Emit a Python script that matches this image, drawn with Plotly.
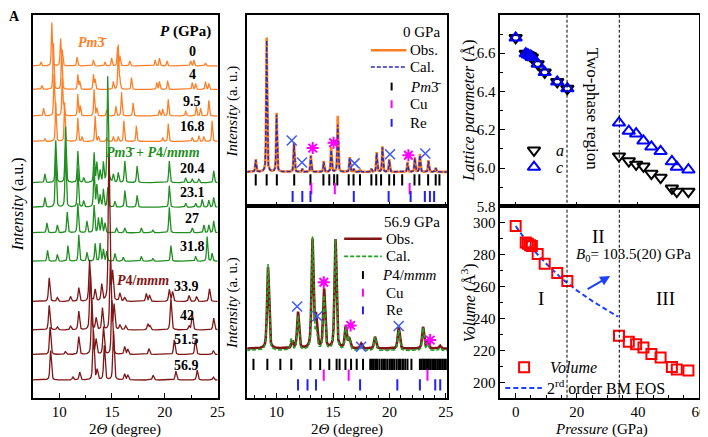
import numpy as np
import plotly.graph_objects as go

FONT = "Liberation Serif"
W, H = 708, 437


def px(x):
    return x / W


def py(y):
    return 1 - y / H


ORANGE = "#FF7F27"
GREEN = "#1F8F1F"
DRED = "#7F1515"
NAVY = "#2C2CB4"
CALGREEN = "#22A022"
XBLUE = "#3D5AFE"
MAG = "#FF00FF"
REBLUE = "#2020FF"
VBLUE = "#1F3FFF"

# ---------------- Panel A : stacked patterns (peak position 2theta, height) ----------------
pressures_A = ["0", "4", "9.5", "16.8", "20.4", "23.1", "27", "31.8", "33.9", "42", "51.5", "56.9"]
offsets_A = [338, 314, 287, 261, 219, 194, 168, 139, 98, 69, 44, 18]
peaks_A_0 = [(8.28, 4), (9.31, 44), (10.14, 27), (10.3, 15), (11.7, 9), (13.25, 6), (14.34, 4), (14.97, 8), (15.53, 19), (15.75, 10), (16.69, 5), (19.09, 6), (19.5, 8), (20.21, 5), (22.45, 5), (22.76, 6), (23.85, 3)]
peaks_A_4 = [(8.37, 4), (9.46, 47), (10.24, 40), (11.77, 15), (11.95, 8), (13.25, 15), (13.41, 10), (15.13, 8), (15.6, 45), (15.75, 10), (16.85, 12), (19.25, 7), (19.5, 8), (20.27, 9), (22.6, 7), (22.92, 6), (23.85, 8), (24.17, 6)]
peaks_A_9 = [(8.53, 8), (9.52, 43), (10.3, 38), (10.45, 10), (11.77, 22), (12.01, 10), (13.31, 27), (13.57, 8), (14.5, 6), (15.37, 10), (15.91, 24), (17.0, 13), (19.5, 6), (19.81, 7), (20.33, 17), (21.98, 5), (22.98, 10), (23.39, 8), (24.17, 16)]
peaks_A_16 = [(8.65, 3), (9.68, 40), (10.52, 40), (11.77, 24), (12.17, 5), (13.41, 26), (13.72, 5), (14.5, 4), (15.13, 5), (15.6, 5), (16.13, 21), (17.31, 16), (19.81, 4), (20.33, 18), (22.6, 4), (23.23, 6), (23.7, 5), (24.48, 21)]
peaks_A_20 = [(8.65, 9), (9.68, 43), (10.61, 57), (11.77, 32), (12.32, 5), (13.31, 30), (13.57, 20), (13.88, 12), (14.19, 20), (14.6, 108), (15.13, 8), (15.6, 10), (16.22, 22), (17.38, 17), (20.43, 22), (21.98, 5), (22.6, 4), (23.23, 4), (24.63, 12)]
peaks_A_23 = [(8.65, 10), (9.68, 55), (10.61, 60), (11.77, 40), (12.32, 6), (13.31, 40), (13.57, 22), (13.88, 12), (14.19, 18), (14.6, 20), (15.28, 6), (16.22, 17), (17.38, 12), (20.43, 22), (21.98, 4), (22.92, 4), (23.54, 8), (24.17, 7), (24.63, 10)]
peaks_A_27 = [(8.84, 10), (9.83, 8), (10.77, 21), (11.77, 30), (12.63, 12), (13.31, 28), (13.72, 15), (14.03, 15), (14.34, 10), (15.44, 5), (16.22, 5), (17.78, 5), (18.87, 3), (20.43, 26), (22.6, 5), (23.7, 8), (24.17, 8), (24.63, 12)]
peaks_A_31 = [(8.9, 11), (9.83, 7), (10.83, 16), (11.86, 27), (12.63, 9), (13.41, 18), (13.88, 18), (14.19, 12), (14.5, 10), (15.28, 8), (16.06, 4), (17.78, 5), (18.87, 3), (20.58, 16), (22.92, 5), (24.01, 25), (24.48, 8)]
peaks_A_33 = [(9.06, 24), (9.83, 4), (11.08, 5), (11.86, 14), (12.88, 42), (13.41, 12), (14.03, 17), (14.72, 156), (15.06, 28), (15.75, 8), (16.2, 4), (18.25, 8), (18.56, 6), (20.43, 12), (20.74, 10), (22.3, 6), (23.0, 5), (24.23, 13)]
peaks_A_42 = [(9.06, 25), (9.83, 3), (11.08, 4), (11.86, 19), (12.95, 60), (13.5, 12), (14.1, 22), (14.85, 70), (15.2, 25), (15.75, 5), (16.3, 4), (18.4, 6), (18.6, 4), (20.58, 32), (22.3, 4), (22.6, 17), (24.63, 12)]
peaks_A_51 = [(9.15, 28), (10.6, 3), (11.86, 18), (13.1, 55), (13.5, 15), (14.2, 28), (15.0, 55), (16.2, 8), (16.5, 5), (18.5, 6), (20.9, 15), (22.9, 15), (24.6, 4)]
peaks_A_56 = [(9.2, 30), (11.3, 3), (11.95, 8), (13.25, 50), (13.6, 10), (14.28, 35), (15.15, 50), (16.2, 6), (16.5, 5), (18.9, 5), (21.05, 9), (23.07, 10), (24.6, 3)]
peaks_A = [peaks_A_0, peaks_A_4, peaks_A_9, peaks_A_16, peaks_A_20, peaks_A_23,
           peaks_A_27, peaks_A_31, peaks_A_33, peaks_A_42, peaks_A_51, peaks_A_56]

# ---------------- Panel B : refinements ----------------
base_B0 = 35
obs_B0 = [(8.15, 12.7), (9.12, 137), (10.0, 60), (11.54, 30), (12.28, 3), (13.03, 17), (14.18, 11), (14.84, 25), (15.42, 57), (16.48, 15), (16.84, 3), (17.4, 2), (18.4, 3), (18.87, 20), (19.38, 26), (19.98, 13), (21.6, 10), (22.25, 15), (22.7, 18), (23.46, 12), (24.1, 4)]
cal_B0 = [(8.15, 12), (9.12, 134), (10.0, 58), (11.54, 29), (12.28, 3), (13.03, 16), (14.18, 10), (14.84, 22), (15.42, 48), (16.48, 14), (16.84, 3), (17.4, 2), (18.4, 3), (18.87, 19), (19.38, 25), (19.98, 12), (21.6, 9), (22.25, 14), (22.7, 17), (23.46, 11), (24.1, 4)]
ticks_Pm3 = [8.15, 9.12, 10.02, 11.56, 13.0, 14.15, 14.67, 15.1, 15.38, 16.39, 16.82, 17.39, 18.4, 18.83, 19.26, 19.98, 20.41, 21.13, 22.22, 22.65, 23.43, 24.1, 24.43]
ticks_Cu_0 = [13.08, 15.16, 21.79]
ticks_Re_0 = [11.42, 12.28, 13.0, 16.84, 19.93, 21.88, 23.14, 23.59, 23.96]
re_marks_0_x = [11.34, 12.25, 16.91, 20.05, 23.18]
re_marks_0_y = [67, 44.7, 43.7, 53, 53.7]
cu_marks_0_x = [13.2, 15.05, 21.68]
cu_marks_0_y = [59.3, 64.7, 52]

base_B1 = 50
obs_B1 = [(9.24, 83), (11.39, 7), (11.9, 37), (13.18, 110), (13.49, 31), (14.21, 60), (15.22, 111), (16.13, 22), (16.43, 10), (17.5, 5), (18.72, 12), (20.82, 22), (22.98, 22), (23.38, 8), (24.47, 3)]
cal_B1 = [(9.24, 88), (11.3, 12), (11.9, 35), (13.18, 115), (13.49, 18), (14.21, 55), (15.22, 113), (16.13, 24), (16.43, 12), (17.5, 3), (18.72, 14), (20.82, 21), (22.98, 23), (23.38, 6), (24.47, 3)]
ticks_P4 = [7.95, 9.18, 10.33, 11.3, 13.0, 13.86, 14.67, 15.32, 15.58, 16.1, 16.6, 17.1, 17.66,
            18.3, 18.45, 18.6, 18.75, 18.9, 19.1, 19.3, 19.45, 19.6, 19.8, 20.0, 20.15, 20.3, 20.45,
            20.65, 20.85, 21.0, 21.2, 21.4, 21.6, 21.95,
            22.7, 22.85, 23.0, 23.1, 23.25, 23.4, 23.5, 23.65, 23.8, 23.95, 24.1, 24.25, 24.4,
            24.55, 24.7, 24.85, 25.0]
ticks_Cu_1 = [14.18, 16.39, 23.37]
ticks_Re_1 = [11.9, 12.74, 13.49, 17.4, 20.7, 22.7, 24.06, 24.5]
re_marks_1_x = [11.82, 13.61, 17.49, 20.82]
re_marks_1_y = [93, 83, 52, 73]
cu_marks_1_x = [14.18, 16.56, 23.61]
cu_marks_1_y = [117.7, 73.7, 58.7]

# ---------------- Panel C ----------------
P_low = [0, 3.3, 4.0, 4.7, 5.3, 7.2, 9.5, 13.6, 16.9]
a_low = [6.68, 6.598, 6.592, 6.586, 6.578, 6.544, 6.50, 6.45, 6.415]
V_low = [298, 287.7, 286.9, 286.0, 285.6, 280.5, 274.5, 268.6, 263.7]
P_high = [33.8, 37.0, 39.4, 41.8, 44.4, 47.4, 51.1, 52.7, 56.5]
a_high = [6.062, 6.036, 6.019, 6.009, 5.971, 5.950, 5.894, 5.877, 5.877]
c_high = [6.236, 6.193, 6.179, 6.142, 6.111, 6.087, 6.034, 6.005, 5.991]
V_high = [229.4, 225.7, 224.0, 222.0, 217.9, 215.8, 209.9, 208.2, 207.6]
P_bm = [0, 5, 10, 15, 20, 25, 30, 33.5]
V_bm = [298, 284.7, 274.5, 265.3, 257.8, 251.2, 245.3, 241.3]
transitions = [16.8, 33.9]


def profile(grid, peaks, fwhm):
    y = np.zeros_like(grid)
    for pos, h in peaks:
        d = (grid - pos) / fwhm
        y += h * (0.5 * np.exp(-4 * np.log(2) * d * d) + 0.5 / (1 + 4 * d * d))
    return y


fig = go.Figure()
grid = np.linspace(7.3, 25.2, 4000)

colors_A = [ORANGE] * 4 + [GREEN] * 4 + [DRED] * 4
fwhm_A = [0.11] * 4 + [0.13] * 4 + [0.16] * 4
for i, pk in enumerate(peaks_A):
    fig.add_trace(go.Scatter(x=grid, y=offsets_A[i] + profile(grid, pk, fwhm_A[i]), mode="lines",
                             line=dict(color=colors_A[i], width=1.3), showlegend=False,
                             xaxis="x", yaxis="y", hoverinfo="skip"))

PM3 = "<i>Pm</i>3\u0304"


def tick_trace(xs, yv, color, xa, ya):
    return go.Scatter(x=xs, y=[yv] * len(xs), mode="markers", showlegend=False,
                      marker=dict(symbol="line-ns", size=8, color=color, line=dict(color=color, width=2)),
                      xaxis=xa, yaxis=ya, hoverinfo="skip")


def marks(xs, ys, symbol, color, xa, ya, lw=1.5, size=10):
    return go.Scatter(x=xs, y=ys, mode="markers", showlegend=False,
                      marker=dict(symbol=symbol, size=size, color=color, line=dict(color=color, width=lw)),
                      xaxis=xa, yaxis=ya, hoverinfo="skip")


# B top
fig.add_trace(go.Scatter(x=grid, y=base_B0 + profile(grid, obs_B0, 0.1), mode="lines", showlegend=False,
                         line=dict(color=ORANGE, width=2.6), xaxis="x2", yaxis="y2"))
fig.add_trace(go.Scatter(x=grid, y=base_B0 + profile(grid, cal_B0, 0.1), mode="lines", showlegend=False,
                         line=dict(color=NAVY, width=1.5, dash="4px,2px"), xaxis="x2", yaxis="y2"))
fig.add_trace(tick_trace(ticks_Pm3, 27, "black", "x2", "y2"))
fig.add_trace(tick_trace(ticks_Cu_0, 18, MAG, "x2", "y2"))
fig.add_trace(tick_trace(ticks_Re_0, 10, REBLUE, "x2", "y2"))
fig.add_trace(marks(re_marks_0_x, re_marks_0_y, "x-thin-open", XBLUE, "x2", "y2"))
fig.add_trace(marks(cu_marks_0_x, cu_marks_0_y, "asterisk-open", MAG, "x2", "y2", lw=2))

# B bottom
fig.add_trace(go.Scatter(x=grid, y=base_B1 + profile(grid, obs_B1, 0.2), mode="lines", showlegend=False,
                         line=dict(color=DRED, width=2.6), xaxis="x3", yaxis="y3"))
fig.add_trace(go.Scatter(x=grid, y=base_B1 - 2 + profile(grid, cal_B1, 0.2), mode="lines", showlegend=False,
                         line=dict(color=CALGREEN, width=1.6, dash="4px,2px"), xaxis="x3", yaxis="y3"))
fig.add_trace(tick_trace(ticks_P4, 34, "black", "x3", "y3"))
fig.add_trace(tick_trace(ticks_Cu_1, 23, MAG, "x3", "y3"))
fig.add_trace(tick_trace(ticks_Re_1, 13, REBLUE, "x3", "y3"))
fig.add_trace(marks(re_marks_1_x, re_marks_1_y, "x-thin-open", XBLUE, "x3", "y3"))
fig.add_trace(marks(cu_marks_1_x, cu_marks_1_y, "asterisk-open", MAG, "x3", "y3", lw=2))

# C top : lattice
fig.add_trace(marks(P_low + P_high, a_low + a_high, "triangle-down-open", "black", "x4", "y4", lw=2, size=11))
fig.add_trace(marks(P_low + P_high, a_low + c_high, "triangle-up-open", "#0000FF", "x4", "y4", lw=2, size=11))

# C bottom : volume
fig.add_trace(go.Scatter(x=P_bm, y=V_bm, mode="lines", showlegend=False,
                         line=dict(color=VBLUE, width=2, dash="5px,3px"), xaxis="x5", yaxis="y5"))
fig.add_trace(marks(P_low + P_high, V_low + V_high, "square-open", "#FF0000", "x5", "y5", lw=2, size=10))

# legend glyphs on a full-page pixel overlay axis
fig.add_trace(marks([532], [145], "triangle-down-open", "black", "x6", "y6", lw=2, size=11))
fig.add_trace(marks([532], [162], "triangle-up-open", "#0000FF", "x6", "y6", lw=2, size=11))
fig.add_trace(marks([522], [366], "square-open", "#FF0000", "x6", "y6", lw=2, size=10))

tf = dict(family=FONT, size=15, color="black")
base_ax = dict(showline=True, linecolor="black", linewidth=1.5, mirror=True, showgrid=False,
               zeroline=False, tickfont=tf)
xt = dict(ticks="inside", ticklen=5, tickcolor="black", tickwidth=1.2)
mn = lambda d: dict(dtick=d, ticklen=3, ticks="inside", tickcolor="black")

fig.update_layout(
    width=W, height=H, margin=dict(l=0, r=0, t=0, b=0),
    paper_bgcolor="white", plot_bgcolor="rgba(0,0,0,0)",
    font=dict(family=FONT, size=15, color="black"),
    xaxis=dict(domain=[px(25), px(212)], range=[7.5, 25], anchor="y", dtick=5, tick0=10,
               minor=mn(2.5), **xt, **base_ax),
    yaxis=dict(domain=[py(397), py(7)], range=[0, 390], anchor="x", showticklabels=False, ticks="", **base_ax),
    xaxis2=dict(domain=[px(242), px(444)], range=[7.4, 25.1], anchor="y2", dtick=5, tick0=10,
                showticklabels=False, minor=mn(1), **xt, **base_ax),
    yaxis2=dict(domain=[py(202), py(7)], range=[0, 195], anchor="x2", showticklabels=False, ticks="", **base_ax),
    xaxis3=dict(domain=[px(242), px(444)], range=[7.4, 25.1], anchor="y3", dtick=5, tick0=10,
                minor=mn(1), **xt, **base_ax),
    yaxis3=dict(domain=[py(397), py(202)], range=[0, 195], anchor="x3", showticklabels=False, ticks="", **base_ax),
    xaxis4=dict(domain=[px(498), px(699)], range=[-5, 60], anchor="y4", dtick=20, tick0=0,
                showticklabels=False, minor=mn(5), **xt, **base_ax),
    yaxis4=dict(domain=[py(202), py(7)], range=[5.8, 6.8], anchor="x4", dtick=0.2, tickformat=".1f",
                minor=mn(0.1), **xt, **base_ax),
    xaxis5=dict(domain=[px(498), px(699)], range=[-5, 60], anchor="y5", dtick=20, tick0=0,
                minor=mn(5), **xt, **base_ax),
    yaxis5=dict(domain=[py(397), py(202)], range=[190.6, 310.4], anchor="x5", dtick=20,
                minor=mn(10), **xt, **base_ax),
    xaxis6=dict(domain=[0, 1], range=[0, W], anchor="y6", visible=False, fixedrange=True),
    yaxis6=dict(domain=[0, 1], range=[H, 0], anchor="x6", visible=False, fixedrange=True),
)

shapes = []
for p in transitions:
    shapes.append(dict(type="line", xref="x4", yref="paper", x0=p, x1=p, y0=py(397), y1=py(7),
                       line=dict(color="black", width=1, dash="3px,2px")))


def hline(x0, x1, y, color, width, dash="solid"):
    shapes.append(dict(type="line", xref="paper", yref="paper", x0=px(x0), x1=px(x1), y0=py(y), y1=py(y),
                       line=dict(color=color, width=width, dash=dash)))


def vtick(x, y, color):
    shapes.append(dict(type="line", xref="paper", yref="paper", x0=px(x), x1=px(x), y0=py(y - 4), y1=py(y + 4),
                       line=dict(color=color, width=2)))


# B legends
hline(367, 403, 43, ORANGE, 2.6)
hline(367, 403, 60, NAVY, 1.5, "4px,2px")
vtick(388, 80, "black")
vtick(388, 98, MAG)
vtick(388, 117, REBLUE)
hline(340, 378, 235, DRED, 2.6)
hline(340, 378, 253, CALGREEN, 1.6, "4px,2px")
vtick(359, 272, "black")
vtick(359, 290, MAG)
vtick(359, 308, REBLUE)
# volume legend line
hline(503, 540, 387, VBLUE, 2, "5px,3px")
fig.update_layout(shapes=shapes)

ann = []


def A(x, y, text, size=15, color="black", angle=0, xanchor="center"):
    ann.append(dict(x=px(x), y=py(y), xref="paper", yref="paper", text=text, showarrow=False,
                    font=dict(family=FONT, size=size, color=color), textangle=angle,
                    xanchor=xanchor, yanchor="middle"))


# panel A labels
for i, p in enumerate(pressures_A):
    ann.append(dict(x=22.6 if i < 8 else 22.1, y=offsets_A[i] + 15, xref="x", yref="y",
                    text="<b>" + p + "</b>", showarrow=False,
                    font=dict(family=FONT, size=14, color="black")))
A(180, 24, "<b><i>P</i> (GPa)</b>", 15)
A(85, 35, "<b>" + PM3 + "</b>", 14, ORANGE)
A(147, 147, "<b>" + PM3 + " + <i>P</i>4/<i>mmm</i></b>", 14, GREEN)
A(137, 278, "<b><i>P</i>4/<i>mmm</i></b>", 14, DRED)
A(7, 9, "<b>A</b>", 14)
A(10, 200, "<i>Intensity</i> (a.u.)", 16, angle=-90)
A(118, 429, "2<i>\u0398</i> (degree)", 15)
A(343, 429, "2<i>\u0398</i> (degree)", 15)
A(227, 105, "<i>Intensity</i> (a. u.)", 15, angle=-90)
A(227, 300, "<i>Intensity</i> (a. u.)", 15, angle=-90)
A(466, 105, "<i>Lattice parameter</i> (\u00c5)", 16, angle=-90)
A(466, 300, "<i>Volume</i> (\u00c5<sup>3</sup>)", 16, angle=-90)
A(600, 429, "<i>Pressure</i> (GPa)", 15)
A(592, 103, "Two-phase region", 17, angle=90)
A(597, 233, "II", 19)
A(539, 296, "I", 19)
A(665, 296, "III", 19)
A(633, 252, "<i>B</i><sub>0</sub>= 103.5(20) GPa", 15)
# legend texts
A(439, 24, "0 GPa", 15, xanchor="right")
A(405, 43, "Obs.", 15, xanchor="left")
A(405, 60, "Cal.", 15, xanchor="left")
A(405, 80, "<i>Pm</i>3\u0304", 15, xanchor="left")
A(405, 98, "Cu", 15, xanchor="left")
A(405, 117, "Re", 15, xanchor="left")
A(439, 218, "56.9 GPa", 15, xanchor="right")
A(380, 235, "Obs.", 15, xanchor="left")
A(380, 253, "Cal.", 15, xanchor="left")
A(376, 272, "<i>P</i>4/<i>mmm</i>", 15, xanchor="left")
A(380, 290, "Cu", 15, xanchor="left")
A(380, 308, "Re", 15, xanchor="left")
A(552, 145, "<i>a</i>", 16, xanchor="left")
A(552, 162, "<i>c</i>", 16, xanchor="left")
A(546, 366, "<i>Volume</i>", 16, xanchor="left")
A(543, 386, "2<sup>rd</sup> order BM EOS", 16, xanchor="left")
ann.append(dict(x=px(609), y=py(273), xref="paper", yref="paper", ax=-24, ay=14, text="",
                showarrow=True, arrowhead=2, arrowsize=1, arrowwidth=2, arrowcolor=VBLUE))
fig.update_layout(annotations=ann)

fig.write_html("out.html")
